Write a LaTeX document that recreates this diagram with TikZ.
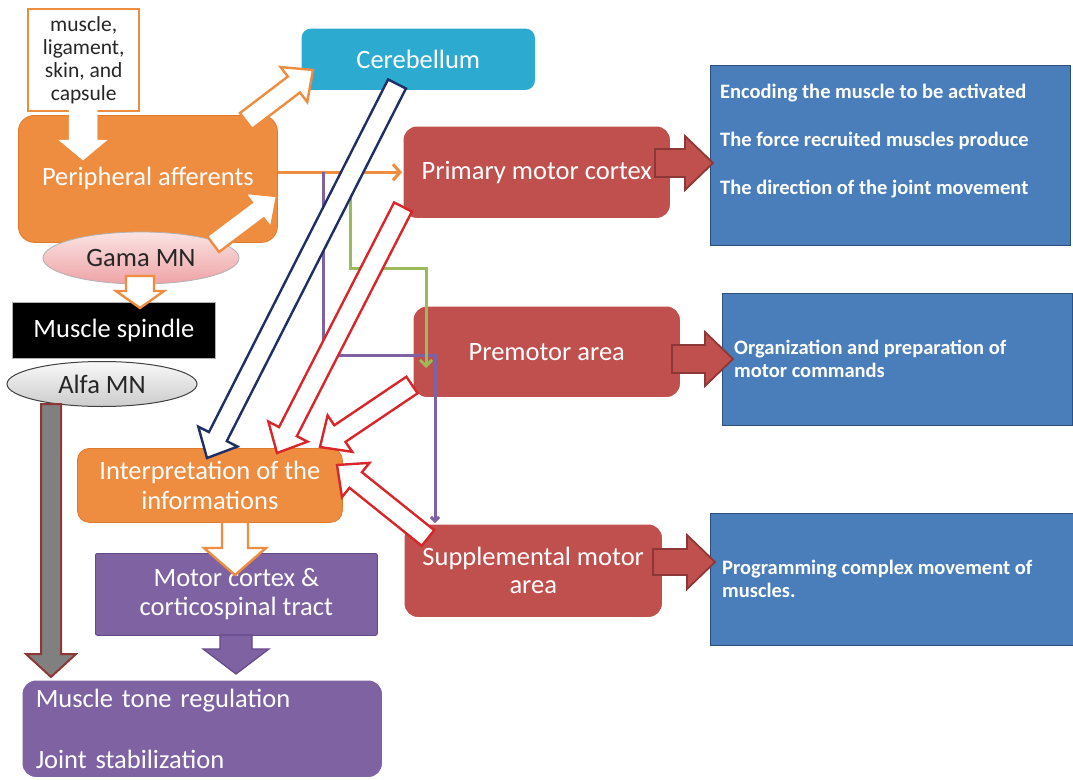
\documentclass[tikz,border=0pt]{standalone}
\usepackage{fontspec}
\setmainfont{Carlito}
\usetikzlibrary{calc,arrows.meta,shapes.geometric}
\definecolor{orng}{HTML}{EE8C3F}
\definecolor{orngdk}{HTML}{E07A2C}
\definecolor{redb}{HTML}{C0504D}
\definecolor{reddk}{HTML}{8C3836}
\definecolor{brightred}{HTML}{D9262A}
\definecolor{blueb}{HTML}{4A7EBB}
\definecolor{bluedk}{HTML}{2C4F7C}
\definecolor{purp}{HTML}{7F62A1}
\definecolor{purpdk}{HTML}{64498A}
\definecolor{cyanb}{HTML}{2DAAD0}
\definecolor{grn}{HTML}{9BBB59}
\definecolor{navy}{HTML}{1F2F66}
\definecolor{txtdk}{HTML}{262626}
\definecolor{pinktop}{HTML}{FBE3E3}
\definecolor{pinkbot}{HTML}{EEA3A6}
\newcommand\myfs[2]{\fontsize{#1}{#2}\selectfont}
% block arrow: style, start, tip, half shaft, half head, head length
\newcommand\blockarr[6]{%
  \coordinate (bN) at ($(#3)!#6!(#2)$);
  \draw[#1] ($(#2)!#4!90:(#3)$) -- ($(bN)!#4!90:(#3)$) -- ($(bN)!#5!90:(#3)$) -- (#3)
    -- ($(bN)!#5!-90:(#3)$) -- ($(bN)!#4!-90:(#3)$) -- ($(#2)!#4!-90:(#3)$) -- cycle;}
\begin{document}
\begin{tikzpicture}[x=1pt,y=-1pt,
  box/.style={anchor=north west, inner sep=0pt, text=white, align=center, font=\myfs{26.5}{29}},
  rbox/.style={box, rounded corners=14pt, fill=redb, draw=white, line width=1.5pt},
  obox/.style={box, rounded corners=16pt, fill=orng, draw=orngdk, line width=0.8pt},
  pbox/.style={box, fill=purp, draw=purpdk, line width=0.8pt},
  bbox/.style={anchor=north west, inner sep=0pt, fill=blueb, draw=bluedk, line width=1.2pt},
  btxt/.style={anchor=west, inner sep=0pt, text=white, align=left, font=\bfseries\myfs{20.5}{22.5}},
  whiteorange/.style={fill=white, draw=orng, line width=2.4pt, line join=miter},
  whitered/.style={fill=white, draw=brightred, line width=2.4pt},
  whitenavy/.style={fill=white, draw=navy, line width=2.4pt},
  redarr/.style={fill=redb, draw=reddk, line width=1.8pt},
  conn/.style={line width=3pt}
]
\fill[white] (0,0) rectangle (1073,779);
\useasboundingbox (0,0) rectangle (1073,779);

% ---- boxes ----
\node[box, fill=white, draw=orng, line width=2.4pt, text=txtdk, font=\myfs{21.5}{23}, minimum width=111pt, minimum height=102pt] (src) at (27,8) {muscle,\\ligament,\\skin, and\\capsule};
\node[obox, minimum width=259pt, minimum height=127pt] (pa) at (18,115) {Peripheral afferents};
\node[ellipse, inner sep=0pt, minimum width=196pt, minimum height=52pt, draw=gray!60, line width=0.8pt, top color=pinktop, bottom color=pinkbot, text=txtdk, font=\myfs{26.5}{29}] (gama) at (141,258) {Gama MN};
\node[box, rounded corners=10pt, fill=cyanb, draw=white, line width=1.5pt, minimum width=235pt, minimum height=63pt] (cer) at (300,27) {Cerebellum};
\node[rbox, minimum width=268pt, minimum height=93pt] (pmc) at (402,125) {Primary motor cortex};
\node[rbox, minimum width=268pt, minimum height=92pt] (pre) at (412,305) {Premotor area};
\node[rbox, minimum width=259pt, minimum height=94pt] (sma) at (403,523) {Supplemental motor\\[-1pt]area};
\node[bbox, minimum width=360pt, minimum height=180pt] (b1) at (710,65) {};
\node[btxt] (b1a) at (720,93) {Encoding the muscle to be activated};
\node[btxt] (b1b) at (720,141) {The force recruited muscles produce};
\node[btxt] (b1c) at (720,189) {The direction of the joint movement};
\node[bbox, minimum width=350pt, minimum height=132pt] (b2) at (722,293) {};
\node[btxt] (b2t) at (734,359) {Organization and preparation of\\motor commands};
\node[bbox, minimum width=363pt, minimum height=132pt] (b3) at (710,513) {};
\node[btxt] (b3t) at (722,579) {Programming complex movement of\\muscles.};
\node[box, fill=black, draw=gray!60, line width=0.8pt, minimum width=203pt, minimum height=56pt] (spn) at (12,302) {Muscle spindle};
\node[ellipse, inner sep=0pt, minimum width=190pt, minimum height=45pt, draw=gray!50!black, line width=1pt, top color=gray!5, bottom color=gray!40, text=txtdk, font=\myfs{26.5}{29}] (alfa) at (102,384) {Alfa MN};
\node[obox, rounded corners=12pt, minimum width=265pt, minimum height=74pt] (int) at (77,448) {Interpretation of the\\[1pt]informations};
\node[pbox, rounded corners=2pt, minimum width=282pt, minimum height=82pt] (mc) at (95,553) {Motor cortex \&\\corticospinal tract};
\node[pbox, rounded corners=14pt, draw=white, line width=1.5pt, align=left, text width=333pt, inner xsep=14pt, minimum height=98pt] (mt) at (21,679) {Muscle tone regulation\\[32pt]Joint stabilization};

% ---- thin connectors ----
\coordinate (pj) at (pmc.west -| 323,0);
\coordinate (gj) at (pmc.west -| 350,0);
\draw[conn, orng, -{Straight Barb[length=7pt,width=16pt]}] (pa.east |- pmc.west) -- (pmc.west);
\draw[conn, purp, -{Straight Barb[length=4pt,width=8pt]}] (pj) -- (323,355) -- (435,355) -- (sma.north -| 435,0);
\draw[conn, grn, -{Straight Barb[length=6pt,width=12pt]}] (gj) -- (350,268) -- (426,268) -- (426,368);

% ---- block arrows ----
\coordinate (s1) at (83,110); \coordinate (t1) at (83,160);
\blockarr{fill=white, draw=white, line width=0.5pt}{s1}{t1}{14pt}{24pt}{20pt}
\coordinate (s2) at (246,121); \coordinate (t2) at (313,70);
\blockarr{whiteorange}{s2}{t2}{10pt}{22pt}{24pt}
\coordinate (s3) at (213,244); \coordinate (t3) at (277,196);
\blockarr{whiteorange}{s3}{t3}{10pt}{22pt}{24pt}
\coordinate (s4) at (140,276); \coordinate (t4) at (140,308);
\blockarr{whiteorange}{s4}{t4}{14pt}{24pt}{17pt}
\coordinate (s5) at (51,404); \coordinate (t5) at (51,677);
\blockarr{fill=gray, draw=reddk, line width=2pt}{s5}{t5}{10pt}{25pt}{23pt}
\coordinate (s6) at (397,84); \coordinate (t6) at (207,458);
\blockarr{whitenavy}{s6}{t6}{10pt}{22pt}{24pt}
\coordinate (s7) at (403,207); \coordinate (t7) at (277,453);
\blockarr{whitered}{s7}{t7}{10pt}{22pt}{24pt}
\coordinate (s8) at (412,385); \coordinate (t8) at (320,447);
\blockarr{whitered}{s8}{t8}{10pt}{22pt}{24pt}
\coordinate (s9) at (428,538); \coordinate (t9) at (337,465);
\blockarr{whitered}{s9}{t9}{10pt}{22pt}{24pt}
\coordinate (s10) at (235,522); \coordinate (t10) at (235,575);
\blockarr{whiteorange}{s10}{t10}{13pt}{31pt}{27pt}
\coordinate (s11) at (236,635); \coordinate (t11) at (236,674);
\blockarr{fill=purp, draw=purpdk, line width=1.2pt}{s11}{t11}{16pt}{33pt}{25pt}
\coordinate (s12) at (655,163); \coordinate (t12) at (713,163);
\blockarr{redarr}{s12}{t12}{14pt}{27pt}{28pt}
\coordinate (s13) at (672,359); \coordinate (t13) at (733,359);
\blockarr{redarr}{s13}{t13}{14pt}{27pt}{28pt}
\coordinate (s14) at (653,562); \coordinate (t14) at (715,562);
\blockarr{redarr}{s14}{t14}{13pt}{27pt}{28pt}
\end{tikzpicture}
\end{document}
